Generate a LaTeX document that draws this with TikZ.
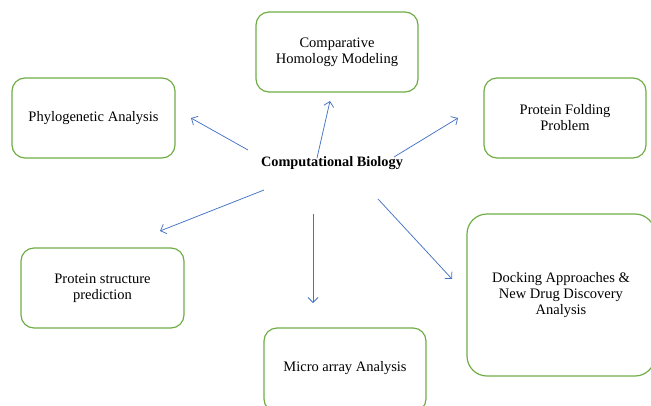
\documentclass[tikz,border=0pt]{standalone}
\usepackage{fontspec}
\setmainfont{Liberation Serif}
\usetikzlibrary{arrows.meta}
\definecolor{boxgreen}{RGB}{112,173,71}
\definecolor{arrowblue}{RGB}{68,114,196}
\begin{document}
\begin{tikzpicture}[x=1pt,y=-1pt,
  topic/.style={draw=boxgreen,line width=1.2pt,rounded corners=13pt,align=center,
    font=\fontsize{14.5}{16}\selectfont,inner sep=0pt},
  link/.style={draw=arrowblue,line width=0.75pt,-{Straight Barb[length=5pt,width=10pt]}}]
\useasboundingbox (0,0) rectangle (651,405);
\clip (0,0) rectangle (651,405);

% topic boxes
\node[topic,minimum width=162pt,minimum height=80pt] (cmp) at (337,52) {Comparative\\Homology Modeling};
\node[topic,minimum width=163pt,minimum height=80pt] (phy) at (93.5,118) {Phylogenetic Analysis};
\node[topic,minimum width=162pt,minimum height=80pt] (fold) at (565,118) {Protein Folding\\Problem};
\node[topic,minimum width=163pt,minimum height=80pt] (str) at (102.5,288) {Protein structure\\prediction};
\node[topic,minimum width=188pt,minimum height=162pt,rounded corners=20pt] (dock) at (561,295) {Docking Approaches \&\\New Drug Discovery\\Analysis};
\node[topic,minimum width=162pt,minimum height=84pt] (micro) at (345,370) {};
\node[font=\fontsize{14.5}{16}\selectfont] (microtxt) at (345,368) {Micro array Analysis};

% central label
\node[font=\bfseries\fontsize{14.3}{16}\selectfont] (cb) at (332,163) {Computational Biology};

% connector end points
\coordinate (s1) at (248,150); \coordinate (e1) at (191,118);
\coordinate (s2) at (317,158); \coordinate (e2) at (330,101);
\coordinate (s3) at (394,157); \coordinate (e3) at (458,118);
\coordinate (s4) at (264,190); \coordinate (e4) at (160,231);
\coordinate (s5) at (313,214); \coordinate (e5) at (313,303);
\coordinate (s6) at (378,199); \coordinate (e6) at (452,279);

\draw[link] (s1) -- (e1);
\draw[link] (s2) -- (e2);
\draw[link] (s3) -- (e3);
\draw[link] (s4) -- (e4);
\draw[link] (s5) -- (e5);
\draw[link] (s6) -- (e6);
\end{tikzpicture}
\end{document}
